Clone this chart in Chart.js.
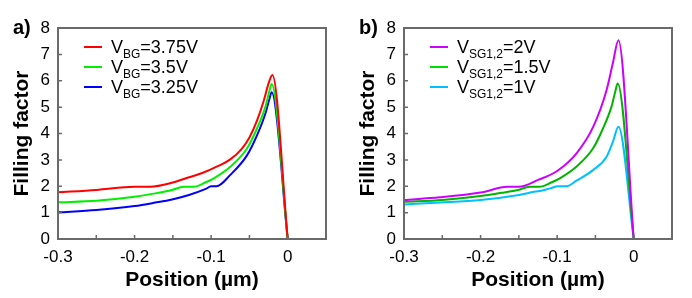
<!DOCTYPE html>
<html>
<head>
<meta charset="utf-8">
<script src="https://cdn.jsdelivr.net/npm/chart.js@4"></script>
<style>
html,body{margin:0;padding:0;background:#fff;}
#wrap{display:flex;width:692px;height:298px;}
canvas{display:block;}
</style>
</head>
<body>
<div id="wrap">
<canvas id="ca" width="346" height="298"></canvas>
<canvas id="cb" width="346" height="298"></canvas>
</div>
<script>
// ---- Panel a data ----
const xRedA   = [-0.3, -0.25, -0.2, -0.18, -0.15, -0.13, -0.11, -0.09, -0.075, -0.06, -0.05, -0.04, -0.031, -0.025, -0.02, 0];
const yRedA   = [1.77, 1.86, 1.98, 1.98, 2.14, 2.33, 2.52, 2.78, 3.02, 3.42, 3.85, 4.5, 5.27, 5.9, 6.22, 0];
const xGreenA = [-0.3, -0.25, -0.2, -0.173, -0.151, -0.136, -0.123, -0.107, -0.0965, -0.075, -0.053, -0.04, -0.029, -0.024, -0.021, 0];
const yGreenA = [1.39, 1.45, 1.60, 1.73, 1.86, 1.98, 1.98, 2.15, 2.30, 2.74, 3.44, 4.2, 5.02, 5.6, 5.88, 0];
const xBlueA  = [-0.3, -0.25, -0.2, -0.173, -0.151, -0.129, -0.107, -0.1, -0.093, -0.075, -0.053, -0.04, -0.029, -0.024, -0.021, 0];
const yBlueA  = [1.01, 1.10, 1.25, 1.38, 1.50, 1.67, 1.90, 2.0, 2.0, 2.43, 3.18, 3.94, 4.77, 5.3, 5.56, 0];
// ---- Panel b data ----
const xPurpleB = [-0.3, -0.253, -0.2, -0.165, -0.15, -0.125, -0.1, -0.0747, -0.0528, -0.0354, -0.027, -0.02, 0];
const yPurpleB = [1.48, 1.58, 1.76, 1.98, 1.98, 2.24, 2.58, 3.25, 4.26, 5.65, 6.7, 7.54, 0];
const xGreenB  = [-0.3, -0.25, -0.2, -0.173, -0.151, -0.136, -0.123, -0.107, -0.0965, -0.075, -0.053, -0.04, -0.029, -0.024, -0.021, 0];
const yGreenB  = [1.41, 1.48, 1.63, 1.75, 1.86, 1.98, 1.98, 2.15, 2.30, 2.74, 3.44, 4.2, 5.02, 5.6, 5.9, 0];
const xCyanB   = [-0.3, -0.253, -0.2, -0.15, -0.13, -0.118, -0.109, -0.0986, -0.0878, -0.0747, -0.0528, -0.0354, -0.027, -0.02, 0];
const yCyanB   = [1.31, 1.38, 1.48, 1.67, 1.79, 1.85, 1.92, 2.0, 2.0, 2.21, 2.62, 3.12, 3.7, 4.26, 0];
// ---- Labels ----
const legendA = [["V","BG","=3.75V"],["V","BG","=3.5V"],["V","BG","=3.25V"]];
const legendB = [["V","SG1,2","=2V"],["V","SG1,2","=1.5V"],["V","SG1,2","=1V"]];
const xTicks = [-0.3, -0.2, -0.1, 0];
const yTitle = "Filling factor";
const xTitle = "Position (\u00b5m)";

function pts(xs, ys){ return xs.map((x,i)=>({x:x,y:ys[i]})); }

const FRAME = '#6a6a6a';

const decorPlugin = {
  id:'decor',
  afterDraw(chart, args, opts){
    const ctx = chart.ctx, a = chart.chartArea;
    const xs = chart.scales.x, ys = chart.scales.y;
    ctx.save();
    // inside ticks
    ctx.strokeStyle = FRAME; ctx.lineWidth = 1.5;
    ctx.beginPath();
    xs.ticks.forEach(t=>{
      const px = xs.getPixelForValue(t.value);
      ctx.moveTo(px, a.bottom); ctx.lineTo(px, a.bottom-4);
    });
    ys.ticks.forEach(t=>{
      const py = ys.getPixelForValue(t.value);
      ctx.moveTo(a.left, py); ctx.lineTo(a.left+4, py);
    });
    ctx.stroke();
    // frame
    ctx.lineWidth = 2;
    ctx.strokeRect(a.left, a.top, a.right-a.left, a.bottom-a.top);
    // panel label
    ctx.fillStyle = '#000';
    ctx.font = 'bold 20px "Liberation Sans", Arial, sans-serif';
    ctx.textBaseline = 'alphabetic'; ctx.textAlign = 'left';
    ctx.fillText(opts.panel, 13, 34);
    // legend
    const rows = opts.legend;
    chart.data.datasets.forEach((ds,i)=>{
      const ry = a.top + 19 + i*20;
      ctx.strokeStyle = ds.legendColor || ds.borderColor; ctx.lineWidth = 2;
      ctx.beginPath(); ctx.moveTo(a.left+26, ry); ctx.lineTo(a.left+44, ry); ctx.stroke();
      let x = a.left + 53;
      const r = rows[i];
      ctx.fillStyle = '#000';
      ctx.font = '18px "Liberation Sans", Arial, sans-serif';
      ctx.fillText(r[0], x, ry+6); x += ctx.measureText(r[0]).width;
      ctx.font = '12px "Liberation Sans", Arial, sans-serif';
      ctx.fillText(r[1], x, ry+10.5); x += ctx.measureText(r[1]).width;
      ctx.font = '18px "Liberation Sans", Arial, sans-serif';
      ctx.fillText(r[2], x, ry+6);
    });
    ctx.restore();
  }
};

function makeChart(id, datasets, panel, legend){
  return new Chart(document.getElementById(id), {
    type:'line',
    data:{datasets: datasets.map(d=>({
      data:d.data, borderColor:d.color, legendColor:d.legendColor, borderWidth:2,
      pointRadius:0, fill:false, cubicInterpolationMode:'monotone', tension:0.4
    }))},
    options:{
      responsive:false, animation:false,
      layout:{padding:{left:0, top:28, right:20, bottom:0}},
      plugins:{legend:{display:false}, tooltip:{enabled:false}, decor:{panel:panel, legend:legend}},
      scales:{
        x:{type:'linear', min:-0.3, max:0.05,
          grid:{display:false, drawTicks:false}, border:{display:false},
          ticks:{stepSize:0.05, autoSkip:false, maxRotation:0, padding:8, color:'#000',
            font:{family:'"Liberation Sans", Arial, sans-serif', size:17, lineHeight:1.2},
            callback:(v)=>{ const m = xTicks.find(t=>Math.abs(t-v)<1e-6); return m===undefined? '' : String(m); }},
          title:{display:true, text:xTitle, color:'#000', padding:{top:0,bottom:5},
            font:{family:'"Liberation Sans", Arial, sans-serif', size:21, weight:'bold', lineHeight:1.2}},
          afterFit:(s)=>{ s.height = 59; }
        },
        y:{type:'linear', min:0, max:8,
          grid:{display:false, drawTicks:false}, border:{display:false},
          ticks:{stepSize:1, padding:8, color:'#000',
            font:{family:'"Liberation Sans", Arial, sans-serif', size:17, lineHeight:1.2}},
          title:{display:true, text:yTitle, color:'#000', padding:{top:10,bottom:0},
            font:{family:'"Liberation Sans", Arial, sans-serif', size:21, weight:'bold', lineHeight:1.2}},
          afterFit:(s)=>{ s.width = 58; }
        }
      }
    },
    plugins:[decorPlugin]
  });
}

makeChart('ca', [
  {data:pts(xRedA,yRedA), color:'#ff0000'},
  {data:pts(xGreenA,yGreenA), color:'#00ee00'},
  {data:pts(xBlueA,yBlueA), color:'#0000ff'}
], 'a)', legendA);

makeChart('cb', [
  {data:pts(xPurpleB,yPurpleB), color:'#cc00ff'},
  {data:pts(xGreenB,yGreenB), color:'#00b400', legendColor:'#00e000'},
  {data:pts(xCyanB,yCyanB), color:'#00c0ff'}
], 'b)', legendB);
</script>
</body>
</html>
